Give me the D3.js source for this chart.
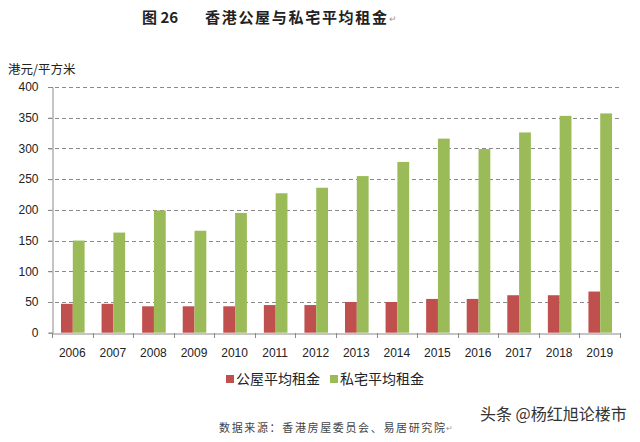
<!DOCTYPE html>
<html>
<head>
<meta charset="utf-8">
<script src="https://cdn.jsdelivr.net/npm/d3@7"></script>
<style>
  body { margin: 0; background: #fff; }
  svg { display: block; }
</style>
</head>
<body>
<div id="chart"></div>
<script>
const years = ["2006", "2007", "2008", "2009", "2010", "2011", "2012", "2013", "2014", "2015", "2016", "2017", "2018", "2019"];
const publicRent = [47, 47, 43, 43, 43, 45, 45, 50, 50, 55, 55, 61, 61, 67];
const privateRent = [150, 163, 199, 166, 195, 227, 236, 255, 278, 316, 299, 326, 353, 357];
const yTicks = [0, 50, 100, 150, 200, 250, 300, 350, 400];
const seriesNames = ["公屋平均租金", "私宅平均租金"];
const colors = ["#C0504D", "#9BBB59"];

const width = 640, height = 442;
const plotLeft = 52, plotRight = 620, plotTop = 87, plotBottom = 332.7;
const font = "'Noto Sans CJK SC', 'Microsoft YaHei', sans-serif";

const svg = d3.select("#chart").append("svg")
    .attr("width", width)
    .attr("height", height);

// title
svg.append("text")
    .attr("x", 142).attr("y", 23)
    .attr("font-family", font).attr("font-size", 15).attr("font-weight", "bold")
    .attr("fill", "#222")
    .text("图 26");
svg.append("text")
    .attr("x", 205).attr("y", 23)
    .attr("font-family", font).attr("font-size", 15).attr("font-weight", "bold")
    .attr("fill", "#222")
    .attr("textLength", 182)
    .text("香港公屋与私宅平均租金");
svg.append("text")
    .attr("x", 389).attr("y", 22)
    .attr("font-family", font).attr("font-size", 9)
    .attr("fill", "#999")
    .text("↵");

let x = d3.scaleBand()
    .domain(years)
    .range([plotLeft, plotRight])
    .paddingInner(0)
    .paddingOuter(0);

let y = d3.scaleLinear()
    .domain([0, 400])
    .range([plotBottom, plotTop]);

// unit label
svg.append("text")
    .attr("x", 8).attr("y", 74)
    .attr("font-family", font).attr("font-size", 12.5)
    .attr("fill", "#222")
    .text("港元/平方米");

// grid
svg.append("g")
    .selectAll("line")
    .data(yTicks.filter(d => d > 0))
    .enter()
    .append("line")
    .attr("x1", plotLeft - 4).attr("x2", plotRight)
    .attr("y1", d => Math.round(y(d)) + 0.5)
    .attr("y2", d => Math.round(y(d)) + 0.5)
    .attr("stroke", "#8a8a8a")
    .attr("stroke-dasharray", "4,3");

// y axis
let yAxis = svg.append("g")
    .attr("transform", "translate(" + (plotLeft + 0.5) + ",0)")
    .call(d3.axisLeft(y).tickValues(yTicks).tickSize(4).tickPadding(10));
yAxis.select(".domain").attr("stroke", "#8a8a8a");
yAxis.selectAll(".tick line").attr("stroke", "#8a8a8a");
yAxis.selectAll("text")
    .attr("font-family", "'Liberation Sans', Arial, sans-serif")
    .attr("font-size", 12)
    .attr("fill", "#222");

// bars
const barW = 11.8;
const group = svg.append("g");
years.forEach(function (yr, i) {
    let x0 = x(yr) + 9;
    [publicRent[i], privateRent[i]].forEach(function (v, s) {
        group.append("rect")
            .attr("x", x0 + s * barW)
            .attr("y", y(v))
            .attr("width", barW)
            .attr("height", y(0) - y(v))
            .attr("fill", colors[s]);
    });
});

// x axis
let xAxis = svg.append("g")
    .attr("transform", "translate(0," + (Math.round(plotBottom) + 0.5) + ")")
    .call(d3.axisBottom(x).tickSize(0).tickPadding(15));
xAxis.select(".domain").attr("stroke", "#8a8a8a");
xAxis.selectAll("text")
    .attr("font-family", "'Liberation Sans', Arial, sans-serif")
    .attr("font-size", 12)
    .attr("fill", "#222");
svg.append("g")
    .selectAll("line")
    .data(years.map((d, i) => i).concat([years.length]))
    .enter()
    .append("line")
    .attr("x1", d => Math.round(plotLeft + d * x.bandwidth()) + 0.5)
    .attr("x2", d => Math.round(plotLeft + d * x.bandwidth()) + 0.5)
    .attr("y1", Math.round(plotBottom))
    .attr("y2", Math.round(plotBottom) + 5)
    .attr("stroke", "#8a8a8a");

// legend
const legendX = [226, 330];
seriesNames.forEach(function (name, i) {
    svg.append("rect")
        .attr("x", legendX[i]).attr("y", 375)
        .attr("width", 8).attr("height", 8)
        .attr("fill", colors[i]);
    svg.append("text")
        .attr("x", legendX[i] + 10).attr("y", 384)
        .attr("font-family", font).attr("font-size", 14)
        .attr("fill", "#222")
        .text(name);
});

// source
svg.append("text")
    .attr("x", 219).attr("y", 432)
    .attr("font-family", font).attr("font-size", 11)
    .attr("fill", "#444")
    .attr("textLength", 226)
    .text("数据来源：香港房屋委员会、易居研究院");
svg.append("text")
    .attr("x", 446).attr("y", 431)
    .attr("font-family", font).attr("font-size", 8)
    .attr("fill", "#999")
    .text("↵");

// watermark
svg.append("text")
    .attr("x", 480).attr("y", 420)
    .attr("font-family", font).attr("font-size", 16)
    .attr("fill", "#333")
    .attr("stroke", "#fff").attr("stroke-width", 2).attr("paint-order", "stroke")
    .text("头条 @杨红旭论楼市");
</script>
</body>
</html>
